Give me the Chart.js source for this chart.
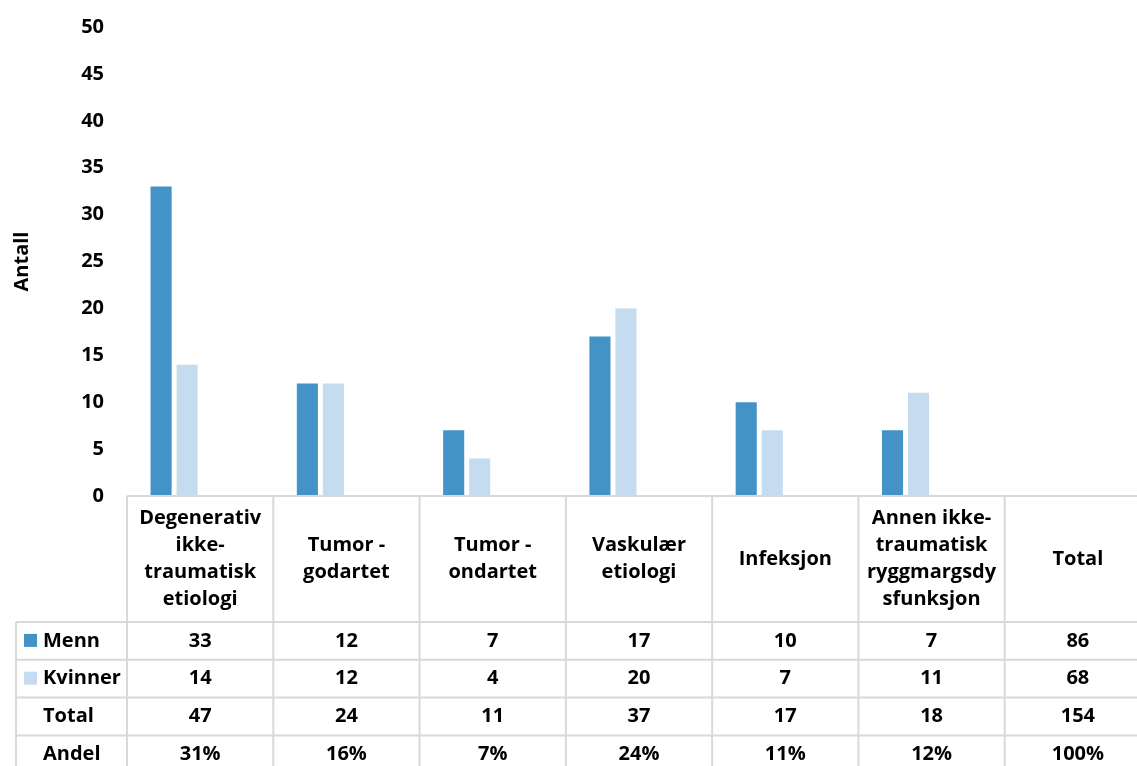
<!DOCTYPE html>
<html lang="no">
<head>
<meta charset="utf-8">
<title>Antall etter etiologi og kjønn</title>
<script src="https://cdn.jsdelivr.net/npm/chart.js@4/dist/chart.umd.min.js"></script>
<style>
  html, body { margin: 0; padding: 0; background: #fff; overflow: hidden; }
  #wrap { position: absolute; left: 0; top: 0; width: 1152px; height: 766px; }
</style>
</head>
<body>
<div id="wrap"><canvas id="chart" width="1152" height="766"></canvas></div>
<script>
// Categories (header cells of the data table, wrapped as shown)
const categories = [
  ['Degenerativ', 'ikke-', 'traumatisk', 'etiologi'],
  ['Tumor -', 'godartet'],
  ['Tumor -', 'ondartet'],
  ['Vaskulær', 'etiologi'],
  ['Infeksjon'],
  ['Annen ikke-', 'traumatisk', 'ryggmargsdy', 'sfunksjon'],
  ['Total']
];

// Counts per category (bars); the "Total" column has no bars
const menn    = [33, 12, 7, 17, 10, 7];
const kvinner = [14, 12, 4, 20, 7, 11];

// Column totals shown in the table
const mennTotal = 86;
const kvinnerTotal = 68;
const totalRow = [47, 24, 11, 37, 17, 18, 154];
const andelRow = ['31%', '16%', '7%', '24%', '11%', '12%', '100%'];

// Y axis
const yMin = 0, yMax = 50, yStep = 5;

const colMenn = '#4393C7';
const colKvinner = '#C5DBF0';
const gridCol = '#D9D9D9';
const FONT = '"Open Sans", "Noto Sans", sans-serif';
const FSIZE = 20;

const tablePlugin = {
  id: 'dataTable',
  afterDraw(chart) {
    const ctx = chart.ctx;
    const area = chart.chartArea;
    const xs = chart.scales.x;
    const n = categories.length;
    const colW = (area.right - area.left) / n;
    const top = area.bottom;          // header row top = axis line
    const headerBottom = 622;
    const rowH = 37.8;
    const rowTops = [headerBottom, headerBottom + rowH, headerBottom + 2 * rowH, headerBottom + 3 * rowH];
    const tableLeft = 16;
    const bottom = headerBottom + 4 * rowH;

    ctx.save();
    ctx.strokeStyle = gridCol;
    ctx.lineWidth = 2;
    ctx.beginPath();
    // axis line / header top
    ctx.moveTo(area.left, top); ctx.lineTo(area.right + 20, top);
    // row lines
    rowTops.forEach(y => { ctx.moveTo(tableLeft, y); ctx.lineTo(area.right + 20, y); });
    ctx.moveTo(tableLeft, bottom); ctx.lineTo(area.right + 20, bottom);
    // vertical lines
    ctx.moveTo(tableLeft, headerBottom); ctx.lineTo(tableLeft, bottom);
    for (let i = 0; i <= n; i++) {
      const x = area.left + i * colW;
      ctx.moveTo(x, top); ctx.lineTo(x, bottom);
    }
    ctx.stroke();

    ctx.fillStyle = '#000';
    ctx.font = 'bold ' + FSIZE + 'px ' + FONT;
    ctx.textAlign = 'center';
    ctx.textBaseline = 'middle';
    const lh = 27;
    const hc = (top + headerBottom) / 2;
    categories.forEach((lines, i) => {
      const cx = xs.getPixelForValue(i);
      const y0 = hc - (lines.length - 1) * lh / 2;
      lines.forEach((t, k) => ctx.fillText(t, cx, y0 + k * lh));
    });

    const rows = [
      { label: 'Menn', key: colMenn, vals: menn.concat([mennTotal]) },
      { label: 'Kvinner', key: colKvinner, vals: kvinner.concat([kvinnerTotal]) },
      { label: 'Total', key: null, vals: totalRow },
      { label: 'Andel', key: null, vals: andelRow }
    ];
    rows.forEach((r, j) => {
      const cy = rowTops[j] + rowH / 2;
      if (r.key) {
        ctx.fillStyle = r.key;
        ctx.fillRect(24, cy - 7, 13, 13);
      }
      ctx.fillStyle = '#000';
      ctx.textAlign = 'left';
      ctx.fillText(r.label, 43, cy);
      ctx.textAlign = 'center';
      r.vals.forEach((v, i) => ctx.fillText(String(v), xs.getPixelForValue(i), cy));
    });
    ctx.restore();
  }
};

new Chart(document.getElementById('chart'), {
  type: 'bar',
  data: {
    labels: categories.map(c => c.join(' ')),
    datasets: [
      { label: 'Menn', data: menn, backgroundColor: colMenn },
      { label: 'Kvinner', data: kvinner, backgroundColor: colKvinner },
      { label: 'Total', data: [], backgroundColor: 'rgba(0,0,0,0)' },
      { label: 'Andel', data: [], backgroundColor: 'rgba(0,0,0,0)' }
    ]
  },
  options: {
    responsive: false,
    animation: false,
    devicePixelRatio: 1,
    datasets: { bar: { categoryPercentage: 0.712, barPercentage: 0.81 } },
    layout: { padding: { left: 0, right: 1, top: 27, bottom: 270 } },
    plugins: { legend: { display: false }, tooltip: { enabled: false } },
    scales: {
      x: { display: false },
      y: {
        min: yMin, max: yMax,
        ticks: { stepSize: yStep, padding: 23, color: '#000', font: { family: FONT, size: FSIZE, weight: 'bold' } },
        grid: { display: false, drawTicks: false },
        border: { display: false },
        title: { display: true, text: 'Antall', color: '#000', padding: { top: 10, bottom: 0 },
                 font: { family: FONT, size: FSIZE, weight: 'bold' } },
        afterFit(scale) {
          scale.width = 127;
          scale.paddingTop = 0;
          scale.paddingBottom = 0;
        }
      }
    }
  },
  plugins: [tablePlugin]
});
</script>
</body>
</html>
